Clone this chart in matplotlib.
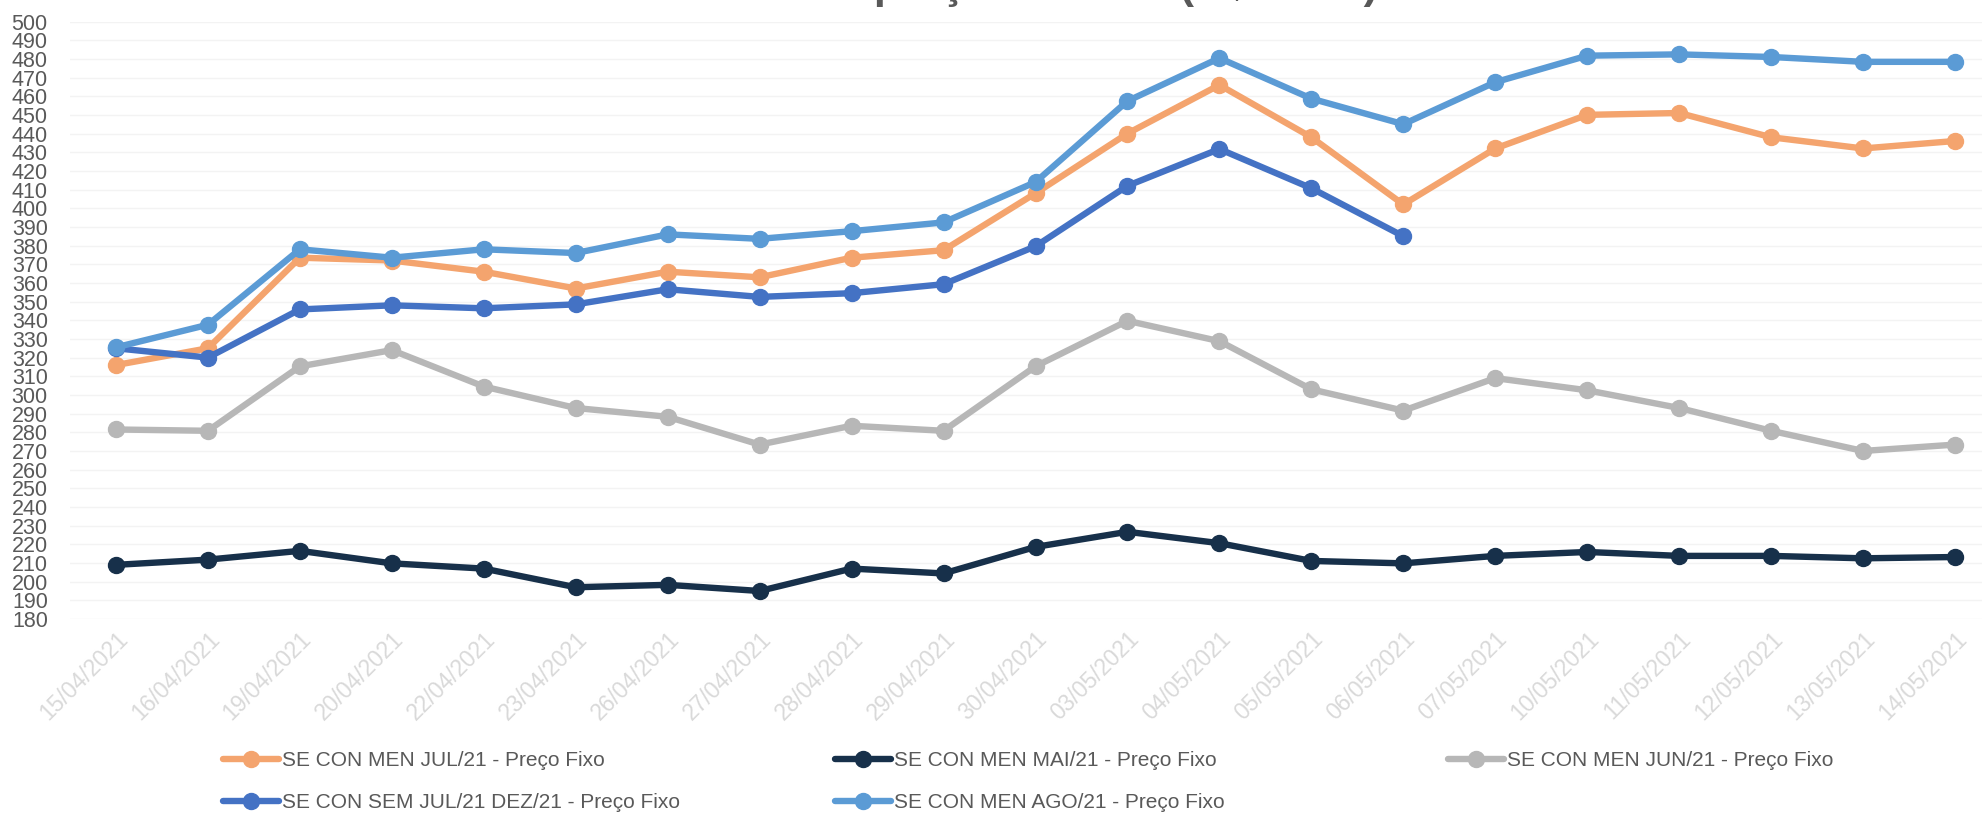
import matplotlib
matplotlib.use("Agg")
import matplotlib.pyplot as plt
import numpy as np

plt.rcParams['font.family'] = ['Liberation Sans Narrow', 'Liberation Sans', 'DejaVu Sans']

dates = ["15/04/2021", "16/04/2021", "19/04/2021", "20/04/2021", "22/04/2021",
         "23/04/2021", "26/04/2021", "27/04/2021", "28/04/2021", "29/04/2021",
         "30/04/2021", "03/05/2021", "04/05/2021", "05/05/2021", "06/05/2021",
         "07/05/2021", "10/05/2021", "11/05/2021", "12/05/2021", "13/05/2021",
         "14/05/2021"]

jul21 = [316, 325, 373.5, 372, 366, 357, 366, 363, 373.5, 377.5, 408, 440, 466,
         438, 402, 432, 450, 451, 438, 432, 436]
mai21 = [209, 211.8, 216.5, 209.8, 207, 197, 198.3, 195, 207, 204.4, 218.6, 226.7,
         220.6, 211.1, 209.8, 213.8, 215.9, 213.8, 213.8, 212.5, 213.2]
jun21 = [281.5, 280.8, 315.3, 324, 304.5, 293, 288.3, 273.4, 283.5, 280.8, 315.3,
         339.7, 328.8, 303, 291.6, 309, 302.5, 293, 280.8, 270, 273.4]
sem_jul_dez21 = [325, 320, 345.8, 348, 346.4, 348.5, 356.6, 352.5, 354.5, 359.3,
                 379.6, 412, 431.7, 410.7, 385, None, None, None, None, None, None]
ago21 = [325.5, 337.6, 378, 373.5, 378, 376, 386, 383.6, 387.7, 392.4, 414, 457.4,
         480.4, 458.7, 445, 467.5, 481.7, 482.4, 481, 478.4, 478.4]

series_names = ["SE CON MEN JUL/21 - Preço Fixo", "SE CON MEN MAI/21 - Preço Fixo",
                "SE CON MEN JUN/21 - Preço Fixo", "SE CON SEM JUL/21 DEZ/21 - Preço Fixo",
                "SE CON MEN AGO/21 - Preço Fixo"]
series_values = [jul21, mai21, jun21, sem_jul_dez21, ago21]
colors = ["#F4A46E", "#17304A", "#B7B7B7", "#4472C4", "#5B9BD5"]

title = "Curva de preços diários (R$/MWh)"

W, H = 1982, 815
fig = plt.figure(figsize=(W / 100, H / 100), dpi=100)
left_px, right_px, top_px, bottom_px = 70, 2001, 21.5, 619
ax = fig.add_axes([left_px / W, 1 - bottom_px / H, (right_px - left_px) / W,
                   (bottom_px - top_px) / H])

x = np.arange(len(dates))
handles = []
for i, (name, vals, c) in enumerate(zip(series_names, series_values, colors)):
    y = np.array([np.nan if v is None else v for v in vals], dtype=float)
    h, = ax.plot(x, y, color=c, lw=4.6, marker='o', ms=11.5, label=name,
                 solid_joinstyle='round', solid_capstyle='round', zorder=3 + i)
    handles.append(h)

ax.set_xlim(-0.5, len(dates) - 0.5)
ax.set_ylim(180, 500)
ax.set_yticks(np.arange(180, 501, 10))
ax.grid(axis='y', color='#F3F3F3', lw=1)
ax.set_axisbelow(True)
for s in ax.spines.values():
    s.set_visible(False)
ax.tick_params(axis='y', length=0, pad=16, labelsize=15.5, labelcolor='#595959')
ax.tick_params(axis='x', length=0, pad=6)
ax.set_xticks(x)
ax.set_xticklabels(dates, rotation=45, ha='right', va='top', rotation_mode='anchor',
                   fontsize=16.5, color='#D9D9D9')

fig.text(1028 / W, 1 + 2 / H, title, ha='center', va='baseline', fontsize=31,
         fontweight='bold', color='#595959')

# legend entries placed individually (row-wise as in reference)
legend_pos = [(223, 761), (835, 761), (1448, 761), (223, 803), (835, 803)]
for h, (lx, ly) in zip(handles, legend_pos):
    fig.legend(handles=[h], labels=[h.get_label()], loc='center left',
               bbox_to_anchor=(lx / W, 1 - ly / H), frameon=False, fontsize=15,
               labelcolor='#595959', handlelength=2.7, handletextpad=0.15,
               borderpad=0, borderaxespad=0, numpoints=1)

fig.savefig("out.png", dpi=100)
